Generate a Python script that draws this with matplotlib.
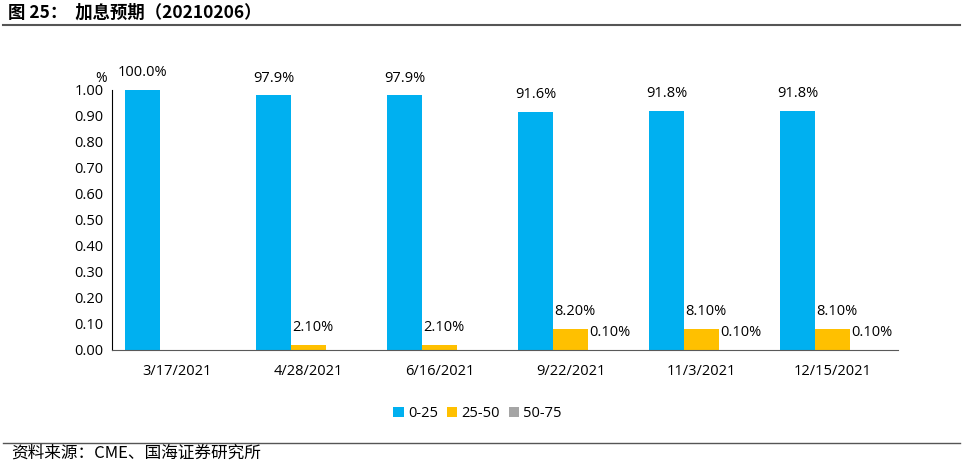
import matplotlib.pyplot as plt
import numpy as np
from matplotlib.lines import Line2D

plt.rcParams["font.family"] = ["Noto Sans CJK SC", "DejaVu Sans"]

dates = ["3/17/2021", "4/28/2021", "6/16/2021", "9/22/2021", "11/3/2021", "12/15/2021"]
series_names = ["0-25", "25-50", "50-75"]
p_0_25 = [1.000, 0.979, 0.979, 0.916, 0.918, 0.918]
p_25_50 = [0.0, 0.021, 0.021, 0.082, 0.081, 0.081]
p_50_75 = [0.0, 0.0, 0.0, 0.001, 0.001, 0.001]
yticks = [0.0, 0.1, 0.2, 0.3, 0.4, 0.5, 0.6, 0.7, 0.8, 0.9, 1.0]

colors = ["#00B0F0", "#FFC000", "#A5A5A5"]
num_font = "Open Sans"

fig = plt.figure(figsize=(9.63, 4.61), dpi=100)
ax = fig.add_axes([0.1163, 0.2408, 0.8162, 0.564])

x = np.arange(len(dates))
w = 0.267
vals = [p_0_25, p_25_50, p_50_75]
for i, (v, c, name) in enumerate(zip(vals, colors, series_names)):
    xs = x + (i - 1) * w
    ax.bar(xs, v, width=w, color=c, label=name)
    for xi, vi in zip(xs, v):
        if vi <= 0:
            continue
        txt = f"{vi * 100:.1f}%" if i == 0 else f"{vi * 100:.2f}%"
        ax.text(xi + (0.03 if i else 0), vi + 0.038, txt, ha="center", va="bottom",
                fontsize=10.5, family=num_font, clip_on=False)

ax.set_xlim(-0.5, len(dates) - 0.5)
ax.set_ylim(0, 1.0)
ax.set_xticks(x)
ax.set_xticklabels(dates, family=num_font, fontsize=10.5)
ax.set_yticks(yticks)
ax.set_yticklabels([f"{t:.2f}" for t in yticks], family=num_font, fontsize=10.5)
ax.tick_params(axis="both", length=0)
ax.tick_params(axis="x", pad=10)
ax.tick_params(axis="y", pad=6)
for s in ["top", "right"]:
    ax.spines[s].set_visible(False)
ax.spines["left"].set_color("#000000")
ax.spines["bottom"].set_color("#595959")
# unit marker sits just above the top tick label
ax.text(-0.014, 1.045, "%", transform=ax.transAxes, fontsize=10, family=num_font,
        ha="center", va="center")

ax.legend(loc="upper center", bbox_to_anchor=(0.465, -0.165), ncol=3, frameon=False,
          handlelength=0.7, handleheight=0.7, handletextpad=0.3, columnspacing=0.6,
          prop={"family": num_font, "size": 10.5})

fig.text(0.008, 0.972, "图 25：  加息预期（20210206）", fontsize=12.5, fontweight="bold",
         ha="left", va="center")
fig.add_artist(Line2D([0.003, 0.997], [0.945, 0.945], color="#555555", lw=1.5))
fig.add_artist(Line2D([0.003, 0.997], [0.04, 0.04], color="#555555", lw=1.0))
fig.text(0.012, 0.018, "资料来源：CME、国海证券研究所", fontsize=12, ha="left", va="center")

fig.savefig("out.png", dpi=100)
